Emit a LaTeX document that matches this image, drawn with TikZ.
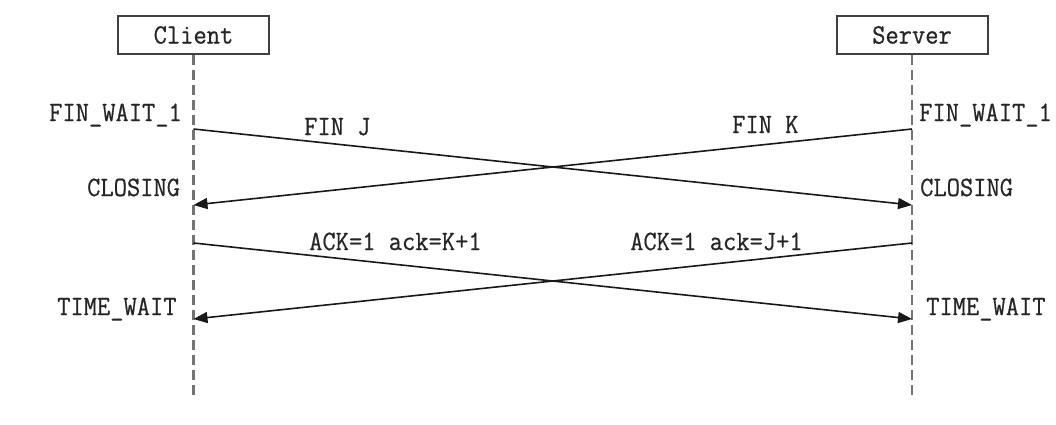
\documentclass[tikz,border=0pt]{standalone}
\usepackage{fontspec}
\setmonofont{Latin Modern Mono}[FakeStretch=0.92,FakeBold=0.6]
\usetikzlibrary{arrows.meta}
\begin{document}
\begin{tikzpicture}[x=1pt,y=-1pt,
  every node/.style={font=\ttfamily\fontsize{28}{32}\selectfont, text=black!85},
  actor/.style={draw=black!75, line width=2pt, minimum width=151pt, minimum height=38pt, inner sep=0pt},
  life/.style={draw=black!55, line width=2.6pt, dash pattern=on 10pt off 5pt},
  msg/.style={draw=black!90, line width=1.6pt, -{Triangle[length=14pt,width=11pt]}},
  lbl/.style={inner sep=0pt, anchor=base west}]
\useasboundingbox (0,0) rectangle (1056,424);
\node[actor] (client) at (193.5,35) {Client};
\node[actor] (server) at (912,35) {Server};
\coordinate (cend) at (193.5,395);
\coordinate (send) at (912,395);
\draw[life] (client.south) -- (cend);
\draw[life] (server.south) -- (send);
% endpoints
\coordinate (c1) at (193.5,129);
\coordinate (c2) at (193.5,205);
\coordinate (c3) at (193.5,243);
\coordinate (c4) at (193.5,319);
\coordinate (s1) at (912,129);
\coordinate (s2) at (912,205);
\coordinate (s3) at (912,243);
\coordinate (s4) at (912,319);
\draw[msg] (c1) -- (s2);
\draw[msg] (s1) -- (c2);
\draw[msg] (c3) -- (s4);
\draw[msg] (s3) -- (c4);
% state labels
\node[lbl] (lfw) at (49,121) {FIN\_WAIT\_1};
\node[lbl] (rfw) at (919,121) {FIN\_WAIT\_1};
\node[lbl] (lcl) at (87,196) {CLOSING};
\node[lbl] (rcl) at (920,196) {CLOSING};
\node[lbl] (ltw) at (57,315) {TIME\_WAIT};
\node[lbl] (rtw) at (926,315) {TIME\_WAIT};
% message labels
\node[lbl] (finj) at (304,135) {FIN J};
\node[lbl] (fink) at (732,133) {FIN K};
\node[lbl] (ackk) at (309,250) {ACK=1 ack=K+1};
\node[lbl] (ackj) at (630,250) {ACK=1 ack=J+1};
\end{tikzpicture}
\end{document}
